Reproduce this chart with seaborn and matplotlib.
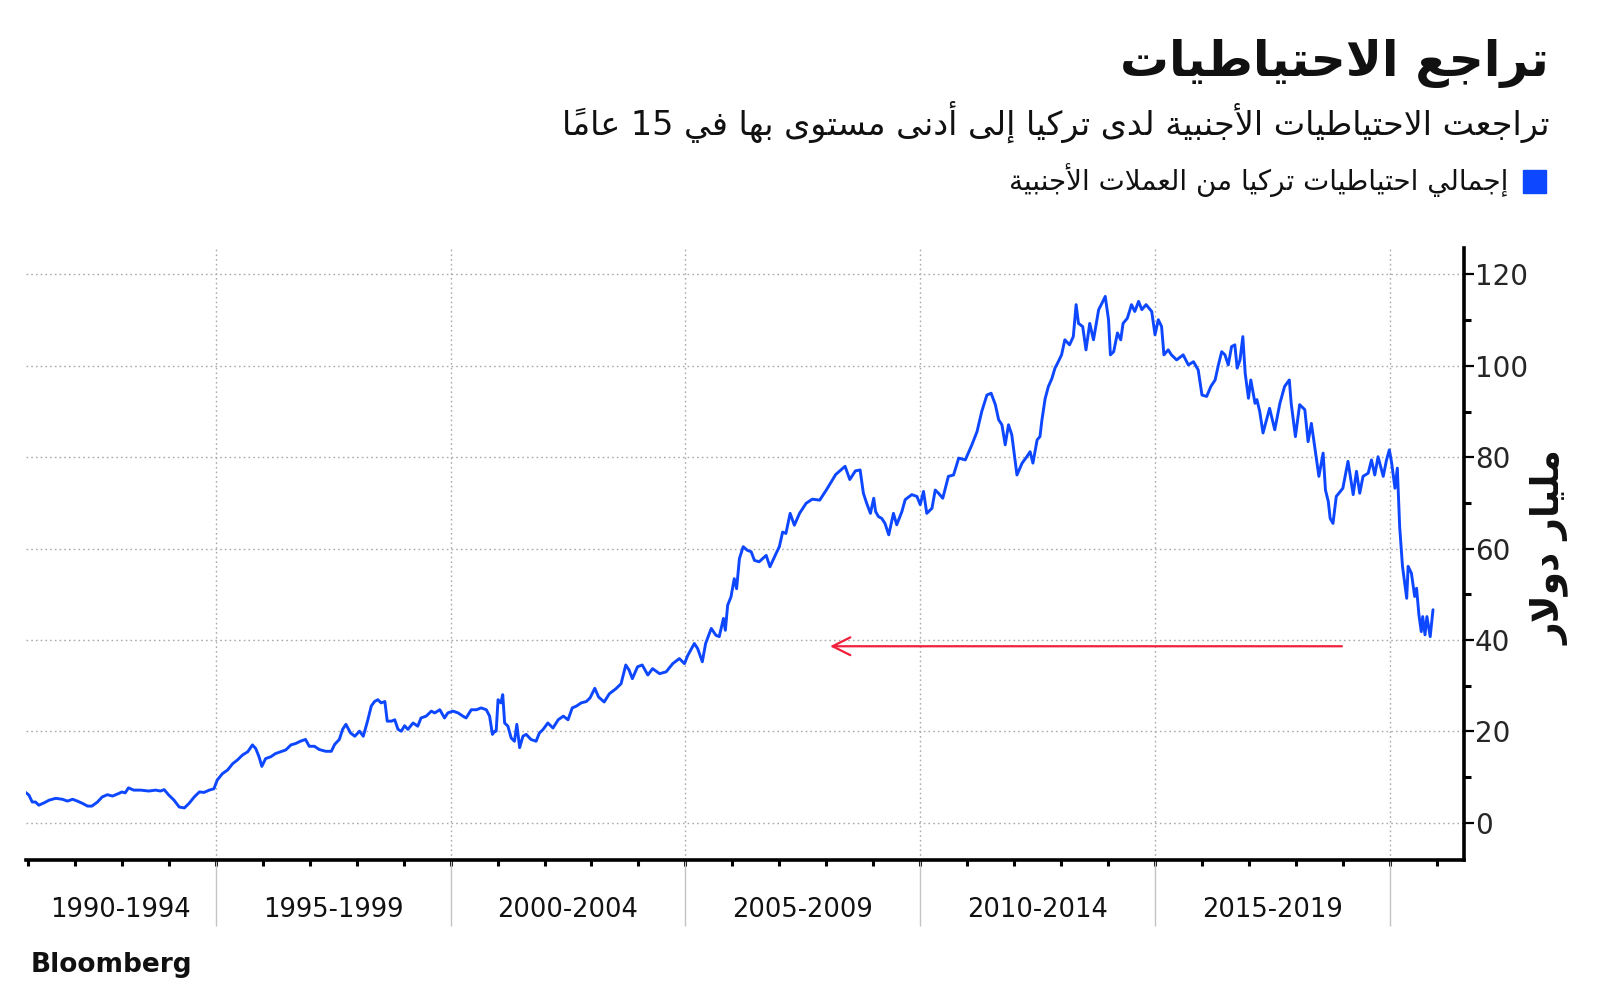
import numpy as np
import pandas as pd
import matplotlib
matplotlib.use("Agg")
import matplotlib.pyplot as plt
import seaborn as sns
from matplotlib.ticker import FixedLocator
from matplotlib.patches import Rectangle

# ---------------- data ----------------
title_ar = "تراجع الاحتياطيات"
subtitle_ar = "تراجعت الاحتياطيات الأجنبية لدى تركيا إلى أدنى مستوى بها في 15 عاماً"
legend_ar = "إجمالي احتياطيات تركيا من العملات الأجنبية"
ylabel_ar = "مليار دولار"
source_label = "Bloomberg"

period_labels = ["1990-1994", "1995-1999", "2000-2004", "2005-2009", "2010-2014", "2015-2019"]
period_starts = [1990, 1995, 2000, 2005, 2010, 2015, 2020]
y_ticks = [0, 20, 40, 60, 80, 100, 120]

years = [
    1990.95, 1991.02, 1991.09, 1991.16, 1991.23, 1991.34, 1991.45, 1991.59, 1991.73, 1991.84,
    1991.95, 1992.05, 1992.16, 1992.27, 1992.36, 1992.48, 1992.58, 1992.69, 1992.80, 1992.94,
    1993.00, 1993.07, 1993.14, 1993.25, 1993.40, 1993.57, 1993.72, 1993.82, 1993.90, 1994.00,
    1994.11, 1994.22, 1994.33, 1994.43, 1994.54, 1994.65, 1994.75, 1994.86, 1994.96, 1995.03,
    1995.14, 1995.25, 1995.36, 1995.46, 1995.57, 1995.68, 1995.78, 1995.85, 1995.92, 1995.98,
    1996.06, 1996.17, 1996.27, 1996.38, 1996.49, 1996.60, 1996.70, 1996.80, 1996.91, 1996.99,
    1997.10, 1997.20, 1997.34, 1997.46, 1997.53, 1997.63, 1997.70, 1997.77, 1997.87, 1997.96,
    1998.06, 1998.14, 1998.23, 1998.31, 1998.38, 1998.45, 1998.52, 1998.60, 1998.65, 1998.74,
    1998.81, 1998.88, 1998.95, 1999.02, 1999.09, 1999.20, 1999.30, 1999.37, 1999.48, 1999.59,
    1999.66, 1999.77, 1999.87, 1999.94, 2000.05, 2000.16, 2000.26, 2000.33, 2000.44, 2000.55,
    2000.65, 2000.76, 2000.83, 2000.89, 2000.94, 2000.97, 2001.01, 2001.07, 2001.11, 2001.15,
    2001.22, 2001.29, 2001.36, 2001.41, 2001.47, 2001.54, 2001.61, 2001.71, 2001.82, 2001.89,
    2001.97, 2002.07, 2002.18, 2002.29, 2002.40, 2002.50, 2002.59, 2002.68, 2002.78, 2002.89,
    2002.97, 2003.07, 2003.15, 2003.27, 2003.38, 2003.52, 2003.63, 2003.73, 2003.80, 2003.87,
    2003.98, 2004.08, 2004.20, 2004.30, 2004.45, 2004.59, 2004.73, 2004.87, 2004.98, 2005.05,
    2005.19, 2005.26, 2005.36, 2005.43, 2005.55, 2005.65, 2005.72, 2005.81, 2005.85, 2005.90,
    2005.97, 2006.04, 2006.09, 2006.15, 2006.23, 2006.32, 2006.40, 2006.47, 2006.57, 2006.72,
    2006.80, 2006.93, 2007.00, 2007.07, 2007.14, 2007.23, 2007.32, 2007.43, 2007.57, 2007.70,
    2007.86, 2008.00, 2008.20, 2008.40, 2008.50, 2008.62, 2008.72, 2008.79, 2008.86, 2008.94,
    2009.01, 2009.05, 2009.11, 2009.18, 2009.25, 2009.33, 2009.43, 2009.50, 2009.61, 2009.68,
    2009.82, 2009.93, 2010.00, 2010.07, 2010.14, 2010.25, 2010.32, 2010.39, 2010.48, 2010.60,
    2010.71, 2010.82, 2010.96, 2011.10, 2011.21, 2011.31, 2011.42, 2011.51, 2011.60, 2011.67,
    2011.74, 2011.81, 2011.88, 2011.95, 2012.06, 2012.17, 2012.27, 2012.34, 2012.40, 2012.49,
    2012.55, 2012.59, 2012.66, 2012.73, 2012.80, 2012.87, 2012.94, 2013.01, 2013.08, 2013.18,
    2013.26, 2013.32, 2013.37, 2013.46, 2013.53, 2013.61, 2013.69, 2013.80, 2013.87, 2013.94,
    2014.01, 2014.05, 2014.12, 2014.20, 2014.27, 2014.32, 2014.41, 2014.50, 2014.57, 2014.65,
    2014.72, 2014.81, 2014.93, 2015.00, 2015.07, 2015.14, 2015.19, 2015.28, 2015.35, 2015.46,
    2015.60, 2015.71, 2015.82, 2015.92, 2016.00, 2016.10, 2016.19, 2016.28, 2016.35, 2016.42,
    2016.49, 2016.56, 2016.63, 2016.70, 2016.75, 2016.81, 2016.87, 2016.92, 2016.99, 2017.04,
    2017.13, 2017.17, 2017.23, 2017.30, 2017.44, 2017.55, 2017.66, 2017.76, 2017.86, 2017.90,
    2017.99, 2018.08, 2018.19, 2018.26, 2018.33, 2018.40, 2018.49, 2018.58, 2018.63, 2018.69,
    2018.73, 2018.79, 2018.86, 2019.00, 2019.11, 2019.22, 2019.29, 2019.36, 2019.43, 2019.54,
    2019.61, 2019.68, 2019.75, 2019.86, 2019.93, 2019.99, 2020.04, 2020.11, 2020.16, 2020.21,
    2020.27, 2020.36, 2020.39, 2020.46, 2020.53, 2020.57, 2020.62, 2020.67, 2020.70, 2020.75,
    2020.79, 2020.86, 2020.92,
]

reserves = [
    6.6, 6.0, 4.5, 4.5, 3.8, 4.3, 4.9, 5.3, 5.1, 4.7,
    5.1, 4.7, 4.2, 3.6, 3.6, 4.5, 5.6, 6.1, 5.8, 6.4,
    6.7, 6.5, 7.6, 7.1, 7.1, 6.9, 7.1, 6.9, 7.2, 6.0,
    4.9, 3.4, 3.2, 4.2, 5.6, 6.7, 6.6, 7.1, 7.4, 9.3,
    10.7, 11.5, 12.9, 13.7, 14.8, 15.5, 17.0, 16.2, 14.4, 12.3,
    14.0, 14.4, 15.1, 15.5, 15.9, 17.0, 17.3, 17.8, 18.2, 16.7,
    16.7, 16.0, 15.6, 15.6, 17.1, 18.2, 20.4, 21.5, 19.6, 18.9,
    20.0, 18.9, 22.2, 25.5, 26.5, 26.9, 26.2, 26.5, 22.2, 22.2,
    22.5, 20.4, 20.0, 21.2, 20.4, 21.8, 21.1, 22.9, 23.3, 24.4,
    24.0, 24.7, 22.9, 24.0, 24.4, 24.0, 23.3, 22.9, 24.7, 24.7,
    25.1, 24.7, 23.3, 19.3, 20.0, 20.0, 26.9, 26.2, 28.0, 21.8,
    21.1, 18.5, 17.8, 21.5, 16.4, 18.9, 19.3, 18.2, 17.8, 19.6,
    20.4, 21.8, 20.7, 22.5, 23.3, 22.5, 25.1, 25.5, 26.2, 26.5,
    27.3, 29.4, 27.5, 26.4, 28.2, 29.3, 30.4, 34.5, 33.4, 31.5,
    34.1, 34.5, 32.3, 33.7, 32.6, 33.0, 34.8, 35.9, 34.8, 36.6,
    39.2, 38.1, 35.2, 39.2, 42.5, 41.0, 40.7, 44.7, 42.1, 47.6,
    49.4, 53.4, 51.2, 57.8, 60.4, 59.6, 59.3, 57.4, 57.1, 58.5,
    56.0, 58.9, 60.4, 63.6, 63.3, 67.7, 65.1, 67.7, 69.9, 70.8,
    70.6, 72.8, 76.2, 78.0, 75.1, 77.0, 77.2, 72.1, 69.9, 67.7,
    71.0, 68.1, 67.0, 66.6, 65.5, 63.0, 67.7, 65.2, 68.1, 70.7,
    71.8, 71.4, 69.6, 72.5, 67.7, 68.8, 72.8, 72.1, 71.0, 75.8,
    76.1, 79.8, 79.4, 82.7, 85.6, 90.0, 93.6, 94.0, 91.5, 88.2,
    87.1, 82.7, 87.1, 84.9, 76.1, 78.7, 80.1, 81.2, 78.7, 83.8,
    84.5, 88.0, 92.8, 95.5, 97.1, 99.5, 100.9, 102.4, 105.7, 104.6,
    106.4, 113.4, 109.3, 108.6, 103.5, 109.3, 105.7, 112.3, 113.7, 115.2,
    110.1, 102.4, 103.1, 107.2, 105.7, 109.3, 110.4, 113.4, 111.9, 114.1,
    112.3, 113.4, 111.9, 106.8, 110.1, 108.6, 102.4, 103.5, 102.4, 101.3,
    102.4, 100.2, 100.9, 99.1, 93.6, 93.3, 95.5, 96.9, 100.2, 103.1,
    102.4, 100.2, 104.2, 104.6, 99.5, 101.3, 106.4, 98.4, 92.9, 96.9,
    91.8, 92.6, 90.0, 85.3, 90.7, 86.0, 91.8, 95.5, 96.9, 91.8,
    84.5, 91.5, 90.4, 83.4, 87.4, 82.3, 75.8, 80.9, 72.8, 70.3,
    66.6, 65.5, 71.4, 73.2, 79.1, 71.8, 76.9, 72.1, 75.8, 76.5,
    79.4, 76.1, 80.1, 75.8, 79.4, 81.6, 78.7, 73.2, 77.6, 64.8,
    56.1, 49.1, 56.1, 54.6, 49.5, 51.3, 45.5, 41.8, 45.1, 41.1,
    45.1, 40.7, 46.6,
]

arrow_from = (2018.98, 38.6)
arrow_to = (2008.08, 38.6)

# ---------------- Arabic shaping (presentation forms + visual order) ----------------
DUAL = {'ئ': 0xFE89, 'ب': 0xFE8F, 'ت': 0xFE95, 'ث': 0xFE99, 'ج': 0xFE9D, 'ح': 0xFEA1,
        'خ': 0xFEA5, 'س': 0xFEB1, 'ش': 0xFEB5, 'ص': 0xFEB9, 'ض': 0xFEBD, 'ط': 0xFEC1,
        'ظ': 0xFEC5, 'ع': 0xFEC9, 'غ': 0xFECD, 'ف': 0xFED1, 'ق': 0xFED5, 'ك': 0xFED9,
        'ل': 0xFEDD, 'م': 0xFEE1, 'ن': 0xFEE5, 'ه': 0xFEE9, 'ي': 0xFEF1}
RIGHT = {'آ': 0xFE81, 'أ': 0xFE83, 'ؤ': 0xFE85, 'إ': 0xFE87, 'ا': 0xFE8D, 'ة': 0xFE93,
         'د': 0xFEA9, 'ذ': 0xFEAB, 'ر': 0xFEAD, 'ز': 0xFEAF, 'و': 0xFEED, 'ى': 0xFEEF}
LAMALEF = {'آ': 0xFEF5, 'أ': 0xFEF7, 'إ': 0xFEF9, 'ا': 0xFEFB}


def _is_mark(c):
    return '\u064B' <= c <= '\u0652'


def _jt(c):
    if c in DUAL:
        return 'D'
    if c in RIGHT:
        return 'R'
    return 'U'


def shape_ar(text):
    ch = list(text)
    n = len(ch)
    out = []
    i = 0
    while i < n:
        c = ch[i]
        if _is_mark(c) or _jt(c) == 'U':
            out.append(c)
            i += 1
            continue
        j = i - 1
        while j >= 0 and _is_mark(ch[j]):
            j -= 1
        cp = j >= 0 and _jt(ch[j]) == 'D'
        k = i + 1
        while k < n and _is_mark(ch[k]):
            k += 1
        nx = ch[k] if k < n else None
        if c == 'ل' and nx in LAMALEF:
            out.append(chr(LAMALEF[nx] + (1 if cp else 0)))
            out.extend(ch[i + 1:k])
            i = k + 1
            continue
        cn = _jt(c) == 'D' and nx is not None and _jt(nx) in ('D', 'R')
        if _jt(c) == 'D':
            form = 3 if (cp and cn) else 1 if cp else 2 if cn else 0
            out.append(chr(DUAL[c] + form))
        else:
            out.append(chr(RIGHT[c] + (1 if cp else 0)))
        i += 1
    return ''.join(out)


def visual(text):
    s = shape_ar(text)
    tokens = []
    i = 0
    while i < len(s):
        if s[i].isdigit():
            j = i
            while j < len(s) and s[j].isdigit():
                j += 1
        else:
            j = i + 1
            while j < len(s) and _is_mark(s[j]):
                j += 1
        tokens.append(s[i:j])
        i = j
    return ''.join(reversed(tokens))


# ---------------- plotting ----------------
sns.set_theme(style="white")
plt.rcParams['font.family'] = ['DejaVu Sans']

BLUE = '#0d47ff'
RED = '#f0203c'
W, H = 1600, 1001

df = pd.DataFrame({'year': years, 'reserves': reserves})

fig = plt.figure(figsize=(16, 10.01), dpi=100)
ax_l, ax_r, ax_b, ax_t = 25.5 / W, 1464 / W, 1 - 860 / H, 1 - 248 / H
ax = fig.add_axes([ax_l, ax_b, ax_r - ax_l, ax_t - ax_b])

sns.lineplot(data=df, x='year', y='reserves', ax=ax, color=BLUE, linewidth=2.1,
             legend=False, zorder=3)

ax.set_xlim(1990.947, 2021.58)
ax.set_ylim(-8.2, 125.8)
ax.set_xlabel('')
ax.set_ylabel('')

# ticks
ax.xaxis.set_major_locator(FixedLocator(period_starts[1:]))
ax.xaxis.set_minor_locator(FixedLocator(list(range(1991, 2022))))
ax.yaxis.set_major_locator(FixedLocator(y_ticks))
ax.yaxis.set_minor_locator(FixedLocator([v + 10 for v in y_ticks[:-1]]))
ax.yaxis.tick_right()
ax.tick_params(axis='x', which='both', direction='out', length=4, width=2.2,
               color='black', labelbottom=False, bottom=True)
ax.tick_params(axis='y', which='major', direction='out', length=7, width=1.6,
               color='black', labelsize=20, pad=1, right=True, left=False, labelright=True)
ax.tick_params(axis='y', which='minor', direction='out', length=5, width=2.2,
               color='black', right=True, left=False)

# grid
ax.grid(which='major', axis='both', color='#aaaaaa', linestyle=(0, (1.2, 2.2)), linewidth=1.0)
ax.set_axisbelow(True)

# spines
for s in ['left', 'top']:
    ax.spines[s].set_visible(False)
for s in ['bottom', 'right']:
    ax.spines[s].set_color('black')
    ax.spines[s].set_linewidth(2.6)

# period separators and labels
xt = ax.get_xaxis_transform()
ax.vlines(period_starts[1:], -0.108, 0, transform=xt, colors='#c4c4c4',
          linewidth=1.0, clip_on=False)
x0, x1 = ax.get_xlim()
for lab, a, b in zip(period_labels, period_starts[:-1], period_starts[1:]):
    a = max(a, x0)
    ax.text((a + b) / 2, -0.082, lab, transform=xt, ha='center', va='center',
            fontsize=18.5, color='#111111')

# arrow
ax.annotate('', xy=arrow_to, xytext=arrow_from,
            arrowprops=dict(arrowstyle='->,head_length=0.4,head_width=0.2',
                            color=RED, lw=1.6, mutation_scale=32, shrinkA=0, shrinkB=0))

# titles and legend
fig.text(1549 / W, 1 - 64 / H, visual(title_ar), ha='right', va='center',
         fontsize=35, fontweight='bold', color='#111111')
fig.text(1549 / W, 1 - 122 / H, visual(subtitle_ar), ha='right', va='center',
         fontsize=24, color='#111111')
fig.patches.append(Rectangle((1523 / W, 1 - 193 / H), 23 / W, 23 / H,
                             transform=fig.transFigure, color=BLUE, zorder=5))
fig.text(1508 / W, 1 - 180 / H, visual(legend_ar), ha='right', va='center',
         fontsize=20, color='#111111')

# y-axis label (right side)
fig.text(1550 / W, 1 - 548 / H, visual(ylabel_ar), ha='center', va='center',
         rotation=90, fontsize=27, fontweight='bold', color='#111111')

# source
fig.text(31 / W, 1 - 965 / H, source_label, ha='left', va='center', fontsize=19,
         fontweight='bold', family=['Liberation Sans Narrow', 'DejaVu Sans'],
         color='#111111')

fig.savefig('out.png', dpi=100, facecolor='white')
